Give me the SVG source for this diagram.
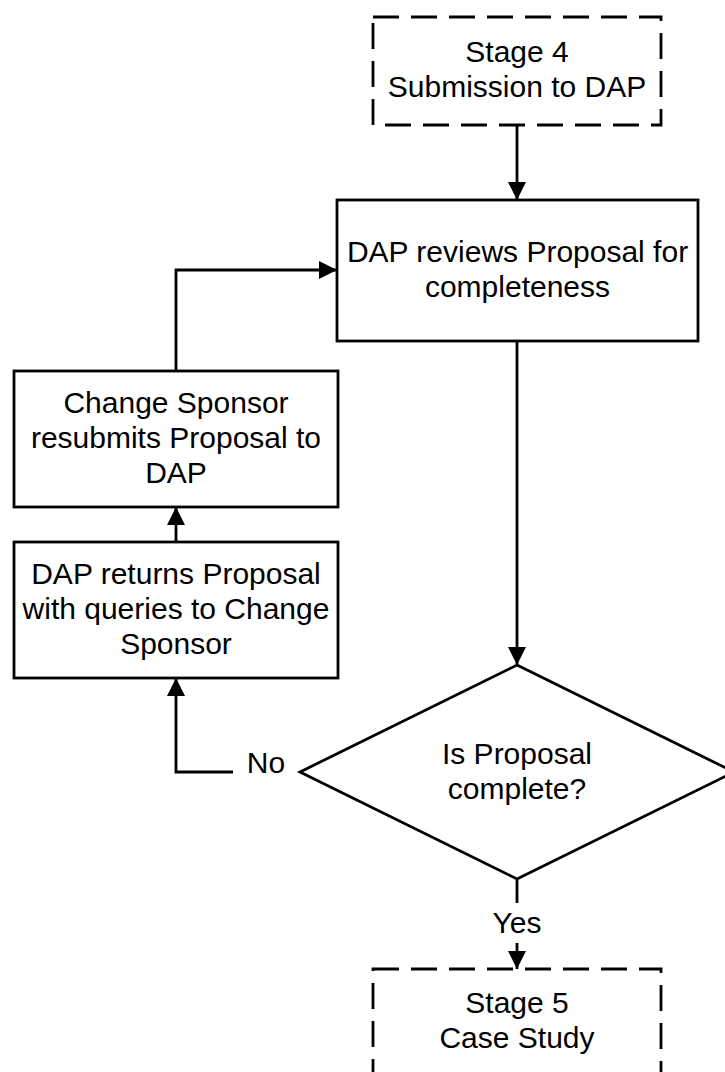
<svg xmlns="http://www.w3.org/2000/svg" width="725" height="1072" viewBox="0 0 725 1072">
<style>
  .box { fill: #ffffff; stroke: #000000; stroke-width: 2.8; }
  .dash { fill: #ffffff; stroke: #000000; stroke-width: 2.8; stroke-dasharray: 26 12; }
  .t { font-family: "Liberation Sans", Arial, sans-serif; font-size: 30px; fill: #000000; text-anchor: middle; }
  .conn { fill: none; stroke: #000000; stroke-width: 2.8; }
</style>
<defs>
  <marker id="arrow" markerUnits="userSpaceOnUse" markerWidth="18" markerHeight="18" viewBox="0 0 18 18" refX="18" refY="9" orient="auto">
    <path d="M0,0 L18,9 L0,18 z" fill="#000000"/>
  </marker>
</defs>
<rect width="725" height="1072" fill="#ffffff"/>
<g id="connectors">
  <path class="conn" d="M517,125 V200" marker-end="url(#arrow)"/>
  <path class="conn" d="M517,341 V665" marker-end="url(#arrow)"/>
  <path class="conn" d="M176,371 V270 H337" marker-end="url(#arrow)"/>
  <path class="conn" d="M176,542 V507" marker-end="url(#arrow)"/>
  <path class="conn" d="M233,772 H176 V678" marker-end="url(#arrow)"/>
  <path class="conn" d="M517,879 V903"/>
  <path class="conn" d="M517,943 V969" marker-end="url(#arrow)"/>
  <text class="t" x="266" y="773">No</text>
  <text class="t" x="517" y="933">Yes</text>
</g>
<g id="stage4">
  <rect class="dash" x="373" y="17" width="288" height="108"/>
  <text class="t" x="517" y="62">Stage 4</text>
  <text class="t" x="517" y="97">Submission to DAP</text>
</g>
<g id="review">
  <rect class="box" x="337" y="200" width="361" height="141"/>
  <text class="t" x="517.5" y="262">DAP reviews Proposal for</text>
  <text class="t" x="517.5" y="297">completeness</text>
</g>
<g id="resubmit">
  <rect class="box" x="14" y="371" width="324" height="136"/>
  <text class="t" x="176" y="413">Change Sponsor</text>
  <text class="t" x="176" y="448">resubmits Proposal to</text>
  <text class="t" x="176" y="483">DAP</text>
</g>
<g id="returns">
  <rect class="box" x="14" y="542" width="324" height="136"/>
  <text class="t" x="176" y="584">DAP returns Proposal</text>
  <text class="t" x="176" y="619">with queries to Change</text>
  <text class="t" x="176" y="654">Sponsor</text>
</g>
<g id="decision">
  <polygon class="box" points="517,665 734,772 517,879 300,772"/>
  <text class="t" x="517" y="764">Is Proposal</text>
  <text class="t" x="517" y="799">complete?</text>
</g>
<g id="stage5">
  <rect class="dash" x="373" y="969" width="288" height="112"/>
  <text class="t" x="517" y="1013">Stage 5</text>
  <text class="t" x="517" y="1048">Case Study</text>
</g>
</svg>
